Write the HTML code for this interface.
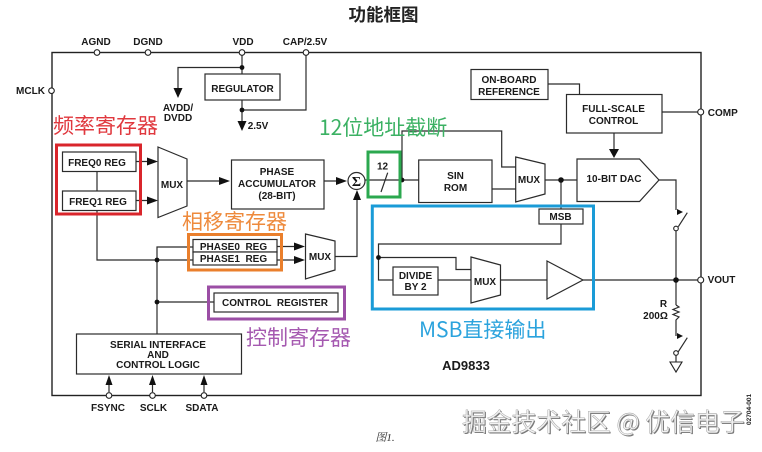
<!DOCTYPE html>
<html><head><meta charset="utf-8">
<style>
html,body{margin:0;padding:0;background:#fff;width:762px;height:452px;overflow:hidden}
svg{display:block}
text{font-family:"Liberation Sans","Noto Sans CJK SC",sans-serif}
.l{font-size:10px;font-weight:bold;fill:#1a1a1a;text-anchor:middle}
.s{fill:none;stroke:#2b2b2b;stroke-width:1.2}
.b{fill:#fff;stroke:#2b2b2b;stroke-width:1.2}
.p{fill:#fff;stroke:#222;stroke-width:1.1}
.d{fill:#111}
.a{fill:#111}
.c{font-family:"Noto Sans CJK SC",sans-serif;font-size:21px}
</style></head><body>
<svg width="762" height="452" viewBox="0 0 762 452" xmlns="http://www.w3.org/2000/svg">
<rect width="762" height="452" fill="#fff"/>
<text x="383.500" y="21" text-anchor="middle" style="font-family:'Noto Sans CJK SC',sans-serif;font-size:17.500px;font-weight:bold" fill="#222">功能框图</text>

<rect x="52" y="52.500" width="649" height="343" fill="none" stroke="#222" stroke-width="1.4"/>

<!-- wires -->
<path class="s" d="M242 52V74M242 67.500H178V92M242 100V125M242 110H306V52"/>
<path class="s" d="M97 171V191M97 210V260H193M136 161.500H148M136 200.500H148M187 181H220M324 181H337"/>
<path class="s" d="M157 334V247H193M157 302H214M277 246.500H295M277 260H295M335 256.500H357V197"/>
<path class="s" d="M365 180H419M402 180V131H501.700V167H516M492 189H516M545 180H577M561 180V209"/>
<path class="s" d="M548 84H579.500V94.500M662 112H701M614 133V150M659 180H676V210"/>
<path class="s" d="M676 228V305M583 280H701M676 353V362"/>
<path class="s" d="M676 305L679 307L673 309.500L679 312L673 314.500L679 317L676 320V336"/>
<path class="s" d="M678.300 226.700L687.300 212.700M678.300 351.700L687.300 337.700"/>
<path class="s" d="M561 224V244H378.500V280H393M378.500 257.500H456V269.500H471M438 280H471M500.500 280H547"/>
<path class="s" d="M109 392V383M152.500 392V383M204 392V383"/>

<!-- arrows -->
<polygon class="a" points="178,98 173.500,88 182.500,88"/>
<polygon class="a" points="242,131 237.500,121 246.500,121"/>
<polygon class="a" points="158,161.500 147,157.500 147,165.500"/>
<polygon class="a" points="158,200.500 147,196.500 147,204.500"/>
<polygon class="a" points="230,181 219,177 219,185"/>
<polygon class="a" points="347,181 336,177 336,185"/>
<polygon class="a" points="357,190 353,200 361,200"/>
<polygon class="a" points="305,246.500 294,242.500 294,250.500"/>
<polygon class="a" points="305,260 294,256 294,264"/>
<polygon class="a" points="614,158 609,149 619,149"/>
<polygon class="a" points="677,209 683,212 677,215"/>
<polygon class="a" points="677,333 683,336 677,339"/>
<polygon class="a" points="109,375 105.500,385 112.500,385"/>
<polygon class="a" points="152.500,375 149,385 156,385"/>
<polygon class="a" points="204,375 200.500,385 207.500,385"/>
<polygon points="670,362 682,362 676,372" fill="#fff" stroke="#222" stroke-width="1.1"/>

<!-- boxes -->
<rect class="b" x="205" y="74" width="75" height="26"/>
<rect class="b" x="62.500" y="152" width="73.500" height="19.500"/>
<rect class="b" x="62.500" y="191" width="73.500" height="19.500"/>
<polygon class="b" points="158,147 187,159 187,206 158,217.500"/>
<rect class="b" x="231.500" y="160" width="92.500" height="49"/>
<circle class="b" cx="356.500" cy="181" r="8.500"/>
<polygon class="b" points="305.500,234 335,241 335,270 305.500,279"/>
<rect class="b" x="418.700" y="160" width="73.300" height="42.500"/>
<polygon class="b" points="515.700,157 545,164 545,194 515.700,202"/>
<polygon class="b" points="577,159 639.500,159 659,180 639.500,201.500 577,201.500"/>
<rect class="b" x="566.500" y="94.500" width="95.500" height="38.500"/>
<rect class="b" x="471" y="69.500" width="77" height="30"/>
<rect class="b" x="539" y="209" width="44" height="15"/>
<rect class="b" x="393" y="267" width="45" height="28"/>
<polygon class="b" points="471,257 500.500,265 500.500,295 471,303"/>
<polygon class="b" points="547,261 583,280 547,299"/>
<rect class="b" x="193" y="239.500" width="84" height="12.500"/>
<rect class="b" x="193" y="252" width="84" height="13"/>
<rect class="b" x="214" y="293" width="124" height="19"/>
<rect class="b" x="76.500" y="334" width="165" height="40"/>

<!-- dots -->
<circle class="d" cx="242" cy="67.500" r="2.400"/>
<circle class="d" cx="242" cy="110" r="2.400"/>
<circle class="d" cx="157" cy="260" r="2.400"/>
<circle class="d" cx="157" cy="302" r="2.400"/>
<circle class="d" cx="402" cy="180" r="2.400"/>
<circle class="d" cx="561" cy="180" r="2.800"/>
<circle class="d" cx="378.500" cy="257.500" r="2.400"/>
<circle class="d" cx="676" cy="280" r="2.800"/>

<!-- pins -->
<circle class="p" cx="97" cy="52.500" r="2.800"/>
<circle class="p" cx="148" cy="52.500" r="2.800"/>
<circle class="p" cx="242" cy="52.500" r="2.800"/>
<circle class="p" cx="306" cy="52.500" r="2.800"/>
<circle class="p" cx="51.500" cy="90.700" r="2.800"/>
<circle class="p" cx="700.700" cy="112" r="3"/>
<circle class="p" cx="700.700" cy="280" r="3"/>
<circle class="p" cx="109" cy="395.500" r="2.800"/>
<circle class="p" cx="152.500" cy="395.500" r="2.800"/>
<circle class="p" cx="204" cy="395.500" r="2.800"/>
<circle class="p" cx="676" cy="228.500" r="2.300"/>
<circle class="p" cx="676" cy="353" r="2.300"/>

<!-- labels -->
<text class="l" x="96" y="45">AGND</text>
<text class="l" x="148" y="45">DGND</text>
<text class="l" x="243" y="45">VDD</text>
<text class="l" x="305" y="45">CAP/2.5V</text>
<text class="l" x="30.500" y="94">MCLK</text>
<text class="l" x="178" y="111">AVDD/</text>
<text class="l" x="178" y="121">DVDD</text>
<text class="l" x="242.500" y="92">REGULATOR</text>
<text class="l" x="258" y="129">2.5V</text>
<text class="l" x="97" y="166">FREQ0 REG</text>
<text class="l" x="98" y="205">FREQ1 REG</text>
<text class="l" x="172" y="188">MUX</text>
<text class="l" x="277" y="175">PHASE</text>
<text class="l" x="277" y="187">ACCUMULATOR</text>
<text class="l" x="277" y="199">(28-BIT)</text>
<text x="356.500" y="186" text-anchor="middle" style="font-family:'Liberation Serif',serif;font-size:14px;font-weight:bold" fill="#111">Σ</text>
<text class="l" x="382.500" y="169.500">12</text>
<text class="l" x="455.500" y="179">SIN</text>
<text class="l" x="455.500" y="191">ROM</text>
<text class="l" x="529" y="183">MUX</text>
<text class="l" x="614" y="182">10-BIT DAC</text>
<text class="l" x="509" y="83">ON-BOARD</text>
<text class="l" x="509" y="95">REFERENCE</text>
<text class="l" x="613.500" y="112">FULL-SCALE</text>
<text class="l" x="613.500" y="124">CONTROL</text>
<text class="l" x="722.800" y="116">COMP</text>
<text class="l" x="721.500" y="283">VOUT</text>
<text class="l" x="663.500" y="307">R</text>
<text class="l" x="655.500" y="319">200Ω</text>
<text class="l" x="560.500" y="220">MSB</text>
<text class="l" x="415.500" y="279">DIVIDE</text>
<text class="l" x="415.500" y="290">BY 2</text>
<text class="l" x="485" y="285">MUX</text>
<text class="l" x="320" y="260">MUX</text>
<text class="l" x="233.500" y="250" xml:space="preserve">PHASE0  REG</text>
<text class="l" x="233.500" y="262" xml:space="preserve">PHASE1  REG</text>
<text class="l" x="275" y="306" xml:space="preserve">CONTROL  REGISTER</text>
<text class="l" x="158" y="348">SERIAL INTERFACE</text>
<text class="l" x="158" y="358">AND</text>
<text class="l" x="158" y="368">CONTROL LOGIC</text>
<text class="l" x="108" y="411">FSYNC</text>
<text class="l" x="153.500" y="411">SCLK</text>
<text class="l" x="202" y="411">SDATA</text>
<text class="l" x="466" y="370" style="font-size:13px">AD9833</text>
<text x="385" y="441" text-anchor="middle" style="font-family:'Liberation Serif','Noto Serif CJK SC',serif;font-size:11px;font-style:italic" fill="#333">图1.</text>

<!-- highlight boxes -->
<rect x="56.500" y="145" width="84" height="69" fill="none" stroke="#d9252b" stroke-width="3"/>
<rect x="368" y="152" width="32" height="45" fill="none" stroke="#2ba84f" stroke-width="3"/>
<rect x="372.300" y="206" width="221.200" height="103" fill="none" stroke="#1a9bd7" stroke-width="3"/>
<rect x="188.500" y="234.500" width="93" height="35.500" fill="none" stroke="#ea7f2c" stroke-width="3"/>
<rect x="208.500" y="287" width="136" height="32" fill="none" stroke="#9b4ea5" stroke-width="3"/>
<path class="s" d="M381 192L387.700 172.700"/>

<!-- Chinese annotations -->
<text class="c" x="53" y="133" fill="#e0383e">频率寄存器</text>
<text class="c" x="319" y="135" fill="#3bb163">12位地址截断</text>
<text class="c" x="182" y="229" fill="#ee8a3c">相移寄存器</text>
<text class="c" x="246" y="345" fill="#a559b0">控制寄存器</text>
<text class="c" x="419" y="337" fill="#2ba3dd">MSB直接输出</text>

<!-- watermark -->
<text x="462" y="431" style="font-family:'Noto Sans CJK SC',sans-serif;font-size:24.800px" fill="#777" transform="translate(1,1)">掘金技术社区 @ 优信电子</text>
<text x="462" y="431" style="font-family:'Noto Sans CJK SC',sans-serif;font-size:24.800px" fill="#f2f2f2" stroke="#999" stroke-width="0.4">掘金技术社区 @ 优信电子</text>
<text transform="translate(751,425) rotate(-90)" style="font-size:6.500px;font-weight:bold" fill="#222">02704-001</text>
</svg>
</body></html>
